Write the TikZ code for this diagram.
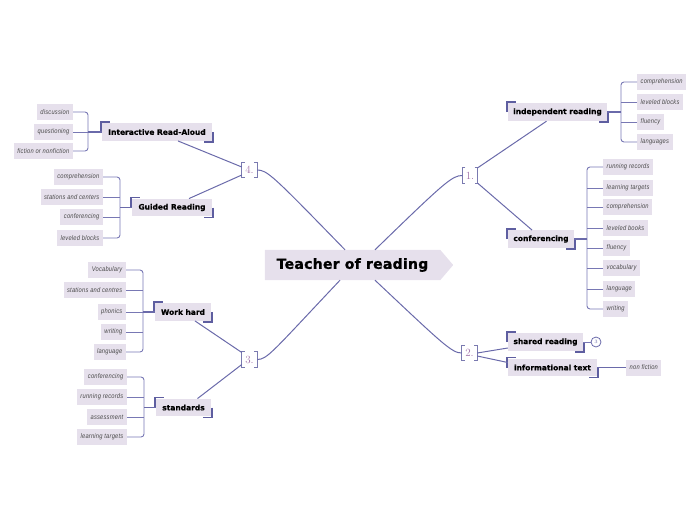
\documentclass[tikz,border=0pt]{standalone}
\usepackage{fontspec}
\usetikzlibrary{backgrounds}
\newfontfamily\leaffont[FakeStretch=0.85,LetterSpace=3]{Liberation Sans}
\newfontfamily\subfont[BoldFeatures={FakeBold=0.5}]{DejaVu Sans}
\newfontfamily\titlefont[BoldFeatures={FakeBold=1.3,LetterSpace=2}]{DejaVu Sans}
\definecolor{boxfill}{HTML}{E6E0EC}
\definecolor{linecol}{HTML}{6A6AAA}
\definecolor{leafcol}{HTML}{7878B4}
\definecolor{markcol}{HTML}{5E5EA0}
\definecolor{brkcol}{HTML}{7A7AB0}
\definecolor{numcol}{HTML}{A070A8}
\definecolor{leaftext}{HTML}{4A4A4A}
\newcommand\cmarks[1]{%
  \draw[cmark] ([xshift=-1pt]#1.west) -- ([xshift=-1pt,yshift=1pt]#1.north west) -- ([xshift=8pt,yshift=1pt]#1.north west);
  \draw[cmark] ([xshift=1pt]#1.east) -- ([xshift=1pt,yshift=-1pt]#1.south east) -- ([xshift=-8pt,yshift=-1pt]#1.south east);}
\newcommand\numbrackets[1]{%
  \draw[brk] ([xshift=3pt]#1.north west) -- (#1.north west) -- (#1.south west) -- ([xshift=3pt]#1.south west);
  \draw[brk] ([xshift=-3pt]#1.north east) -- (#1.north east) -- (#1.south east) -- ([xshift=-3pt]#1.south east);}
\begin{document}
\begin{tikzpicture}[x=1pt,y=-1pt,
  line/.style={draw=linecol, line width=1pt},
  leafline/.style={draw=leafcol, line width=0.9pt, rounded corners=3pt},
  stem/.style={draw=linecol, line width=1.6pt},
  cmark/.style={draw=markcol, line width=1.8pt},
  brk/.style={draw=brkcol, line width=0.9pt},
  leaf/.style={fill=boxfill, text=leaftext, font=\leaffont\itshape\fontsize{6.8}{8}\selectfont, minimum height=16pt, inner xsep=3.5pt, inner ysep=0pt},
  sub/.style={fill=boxfill, font=\subfont\bfseries\fontsize{7.5}{9}\selectfont, minimum height=17.5pt, inner xsep=2pt, inner ysep=0pt},
  num/.style={text=numcol, font=\fontsize{11}{12}\selectfont, minimum width=15pt, minimum height=15pt, inner sep=0pt},
  mainnode/.style={font=\titlefont\bfseries\fontsize{14}{16}\selectfont, minimum width=175pt, minimum height=30pt, inner sep=0pt},
]
\useasboundingbox (0,0) rectangle (696,520);

% root
\node[mainnode] (root) at (352.5,265) {Teacher of reading};
\begin{pgfonlayer}{background}
\fill[boxfill] (root.north west) -- (root.north east) -- ([xshift=13pt]root.east) -- (root.south east) -- (root.south west) -- cycle;
\end{pgfonlayer}

% numbers
\node[num] (n4) at (249.5,170) {4.};
\node[num] (n1) at (470,175.5) {1.};
\node[num] (n2) at (469.5,353) {2.};
\node[num] (n3) at (249.5,359.5) {3.};
\numbrackets{n4}\numbrackets{n1}\numbrackets{n2}\numbrackets{n3}

\draw[line] ([xshift=-7.5pt]root.north) .. controls +(-72,-74) and +(10,0) .. (n4.east);
\draw[line] ([xshift=22.5pt]root.north) .. controls +(70,-68) and +(-10,0) .. (n1.west);
\draw[line] ([xshift=-12.5pt]root.south) .. controls +(-68,72) and +(10,0) .. (n3.east);
\draw[line] ([xshift=22.5pt]root.south) .. controls +(68,64) and +(-10,0) .. (n2.west);

% sub nodes
\node[sub, minimum width=110pt] (ira) at (157,132) {Interactive Read-Aloud};
\node[sub, minimum width=80pt] (gr) at (172,207.5) {Guided Reading};
\node[sub, minimum width=56pt] (wh) at (183,312) {Work hard};
\node[sub, minimum width=55pt] (st) at (183.5,407.5) {standards};
\node[sub, minimum width=99pt, minimum height=18pt] (ir) at (557.5,112) {independent reading};
\node[sub, minimum width=66pt] (cf) at (541,239) {conferencing};
\node[sub, minimum width=75pt, minimum height=18pt] (sr) at (545.5,342) {shared reading};
\node[sub, minimum width=89pt] (it) at (552.5,367.5) {informational text};
\cmarks{ira}\cmarks{gr}\cmarks{wh}\cmarks{st}\cmarks{ir}\cmarks{cf}\cmarks{sr}\cmarks{it}

\draw[line] ([yshift=3pt]n4.west) -- ([xshift=21pt]ira.south);
\draw[line] ([yshift=-5pt]n4.west) -- ([xshift=17pt]gr.north);
\draw[line] ([yshift=7pt]n3.west) -- ([xshift=12pt]wh.south);
\draw[line] ([yshift=-5pt]n3.west) -- ([xshift=14pt]st.north);
\draw[line] (n1.north east) -- ([xshift=-11pt]ir.south);
\draw[line] (n1.south east) -- ([xshift=-9pt]cf.north);
\draw[line] (n2.east) -- ([yshift=-6pt]sr.west);
\draw[line] ([yshift=-3pt]n2.east) -- ([yshift=5pt]it.west);

% Interactive Read-Aloud leaves
\coordinate (jira) at (88,132);
\node[leaf, anchor=east] (ira1) at (73,112) {discussion};
\node[leaf, anchor=east] (ira2) at (73,132) {questioning};
\node[leaf, anchor=east] (ira3) at (73,151) {fiction or nonfiction};
\draw[leafline] (ira1.east) -| (jira);
\draw[leafline] (ira3.east) -| (jira);
\draw[leafline] (ira2.east) -- (ira2.east -| jira);
\draw[stem] (jira) -- (ira.west);

% Guided Reading leaves
\coordinate (jgr) at (120,207.5);
\node[leaf, anchor=east] (gr1) at (103,177) {comprehension};
\node[leaf, anchor=east] (gr2) at (103,197) {stations and centers};
\node[leaf, anchor=east] (gr3) at (103,217) {conferencing};
\node[leaf, anchor=east] (gr4) at (103,238) {leveled blocks};
\draw[leafline] (gr1.east) -| (jgr);
\draw[leafline] (gr4.east) -| (jgr);
\draw[leafline] (gr2.east) -- (gr2.east -| jgr);
\draw[leafline] (gr3.east) -- (gr3.east -| jgr);
\draw[stem] (jgr) -- (gr.west);

% Work hard leaves
\coordinate (jwh) at (143,312);
\node[leaf, anchor=east] (wh1) at (126,270) {Vocabulary};
\node[leaf, anchor=east] (wh2) at (126,290) {stations and centres};
\node[leaf, anchor=east] (wh3) at (126,312) {phonics};
\node[leaf, anchor=east] (wh4) at (126,332) {writing};
\node[leaf, anchor=east] (wh5) at (126,352) {language};
\draw[leafline] (wh1.east) -| (jwh);
\draw[leafline] (wh5.east) -| (jwh);
\draw[leafline] (wh2.east) -- (wh2.east -| jwh);
\draw[leafline] (wh3.east) -- (wh3.east -| jwh);
\draw[leafline] (wh4.east) -- (wh4.east -| jwh);
\draw[stem] (jwh) -- (wh.west);

% standards leaves
\coordinate (jst) at (144,407.5);
\node[leaf, anchor=east] (st1) at (127,377) {conferencing};
\node[leaf, anchor=east] (st2) at (127,397) {running records};
\node[leaf, anchor=east] (st3) at (127,417) {assessment};
\node[leaf, anchor=east] (st4) at (127,437) {learning targets};
\draw[leafline] (st1.east) -| (jst);
\draw[leafline] (st4.east) -| (jst);
\draw[leafline] (st2.east) -- (st2.east -| jst);
\draw[leafline] (st3.east) -- (st3.east -| jst);
\draw[stem] (jst) -- (st.west);

% independent reading leaves
\coordinate (jir) at (621,112);
\node[leaf, anchor=west] (ir1) at (637,82) {comprehension};
\node[leaf, anchor=west] (ir2) at (637,102) {leveled blocks};
\node[leaf, anchor=west] (ir3) at (637,122) {fluency};
\node[leaf, anchor=west] (ir4) at (637,142) {languages};
\draw[leafline] (ir1.west) -| (jir);
\draw[leafline] (ir4.west) -| (jir);
\draw[leafline] (ir2.west) -- (ir2.west -| jir);
\draw[leafline] (ir3.west) -- (ir3.west -| jir);
\draw[stem] (ir.east) -- (jir);

% conferencing leaves
\coordinate (jcf) at (587,239);
\node[leaf, anchor=west] (cf1) at (603,167) {running records};
\node[leaf, anchor=west] (cf2) at (603,188) {learning targets};
\node[leaf, anchor=west] (cf3) at (603,207) {comprehension};
\node[leaf, anchor=west] (cf4) at (603,228) {leveled books};
\node[leaf, anchor=west] (cf5) at (603,248) {fluency};
\node[leaf, anchor=west] (cf6) at (603,268) {vocabulary};
\node[leaf, anchor=west] (cf7) at (603,289) {language};
\node[leaf, anchor=west] (cf8) at (603,309) {writing};
\draw[leafline] (cf1.west) -| (jcf);
\draw[leafline] (cf8.west) -| (jcf);
\foreach \i in {2,...,7} {\draw[leafline] (cf\i.west) -- (cf\i.west -| jcf);}
\draw[stem] (cf.east) -- (jcf);

% shared reading / informational text
\node[circle, draw=linecol, fill=white, line width=0.8pt, minimum size=10pt, inner sep=0pt, text=linecol, font=\fontsize{5}{5}\selectfont] (c3) at (596,342) {3};
\draw[leafline] (sr.east) -- (c3.west);
\node[leaf, anchor=west] (nf) at (626,367.5) {non fiction};
\draw[stem] (it.east) -- (nf.west);
\end{tikzpicture}
\end{document}
